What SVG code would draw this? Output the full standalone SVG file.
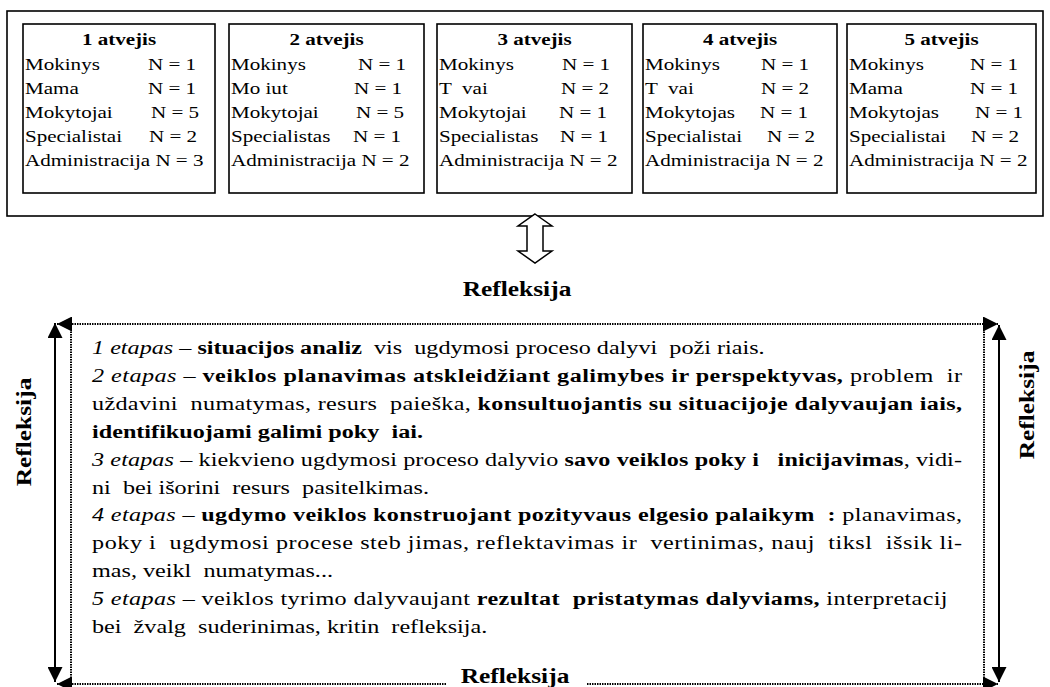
<svg xmlns="http://www.w3.org/2000/svg" width="1050" height="687" viewBox="0 0 1050 687">
<style>
text{font-family:Liberation Serif,DejaVu Serif,serif;fill:#000}
.bx{font-size:17px}
.bd{font-weight:bold}
.it{font-style:italic}
.body{font-size:19.5px}
.ref{font-size:20.5px;font-weight:bold}
.box{fill:#fff;stroke:#000;stroke-width:1.6}
.solid{stroke:#000;stroke-width:2;fill:none}
.dot{stroke:#000;stroke-width:2;fill:none;stroke-dasharray:1.5 1}
</style>
<defs>
<marker id="ah" viewBox="0 0 10 10" refX="10" refY="5" markerWidth="15" markerHeight="15" markerUnits="userSpaceOnUse" orient="auto-start-reverse">
<path d="M0,0 L10,5 L0,10 z" fill="#000"/>
</marker>
</defs>
<rect width="1050" height="687" fill="#fff"/>
<g id="cases-frame">
<rect x="7" y="11" width="1036" height="205" class="box"/>
</g>
<g id="case1">
<rect x="23" y="24" width="192" height="169" class="box"/>
<text class="bx bd" font-family="Liberation Serif" text-anchor="middle" transform="translate(119,45) scale(1.24,1)">1 atvejis</text>
<text class="bx" font-family="Liberation Serif" transform="translate(25,70) scale(1.24,1)">Mokinys</text>
<text class="bx" transform="translate(148,70) scale(1.24,1)">N = 1</text>
<text class="bx" transform="translate(25,94) scale(1.24,1)">Mama</text>
<text class="bx" transform="translate(148,94) scale(1.24,1)">N = 1</text>
<text class="bx" transform="translate(25,118) scale(1.24,1)">Mokytojai</text>
<text class="bx" transform="translate(151,118) scale(1.24,1)">N = 5</text>
<text class="bx" transform="translate(25,142) scale(1.24,1)">Specialistai</text>
<text class="bx" transform="translate(149,142) scale(1.24,1)">N = 2</text>
<text class="bx" transform="translate(25,166) scale(1.24,1)">Administracija N = 3</text>
</g>
<g id="case2">
<rect x="229" y="24" width="195" height="169" class="box"/>
<text class="bx bd" text-anchor="middle" transform="translate(326.5,45) scale(1.24,1)">2 atvejis</text>
<text class="bx" transform="translate(231,70) scale(1.24,1)">Mokinys</text>
<text class="bx" transform="translate(358,70) scale(1.24,1)">N = 1</text>
<text class="bx" xml:space="preserve" transform="translate(231,94) scale(1.24,1)">Mo iut</text>
<text class="bx" transform="translate(354,94) scale(1.24,1)">N = 1</text>
<text class="bx" transform="translate(231,118) scale(1.24,1)">Mokytojai</text>
<text class="bx" transform="translate(356,118) scale(1.24,1)">N = 5</text>
<text class="bx" transform="translate(231,142) scale(1.24,1)">Specialistas</text>
<text class="bx" transform="translate(353,142) scale(1.24,1)">N = 1</text>
<text class="bx" transform="translate(231,166) scale(1.24,1)">Administracija N = 2</text>
</g>
<g id="case3">
<rect x="437" y="24" width="195" height="169" class="box"/>
<text class="bx bd" text-anchor="middle" transform="translate(534.5,45) scale(1.24,1)">3 atvejis</text>
<text class="bx" transform="translate(439,70) scale(1.24,1)">Mokinys</text>
<text class="bx" transform="translate(562,70) scale(1.24,1)">N = 1</text>
<text class="bx" xml:space="preserve" transform="translate(439,94) scale(1.24,1)">T  vai</text>
<text class="bx" transform="translate(561,94) scale(1.24,1)">N = 2</text>
<text class="bx" transform="translate(439,118) scale(1.24,1)">Mokytojai</text>
<text class="bx" transform="translate(559,118) scale(1.24,1)">N = 1</text>
<text class="bx" transform="translate(439,142) scale(1.24,1)">Specialistas</text>
<text class="bx" transform="translate(560,142) scale(1.24,1)">N = 1</text>
<text class="bx" transform="translate(439,166) scale(1.24,1)">Administracija N = 2</text>
</g>
<g id="case4">
<rect x="643" y="24" width="194" height="169" class="box"/>
<text class="bx bd" text-anchor="middle" transform="translate(740,45) scale(1.24,1)">4 atvejis</text>
<text class="bx" transform="translate(645,70) scale(1.24,1)">Mokinys</text>
<text class="bx" transform="translate(761,70) scale(1.24,1)">N = 1</text>
<text class="bx" xml:space="preserve" transform="translate(645,94) scale(1.24,1)">T  vai</text>
<text class="bx" transform="translate(761,94) scale(1.24,1)">N = 2</text>
<text class="bx" transform="translate(645,118) scale(1.24,1)">Mokytojas</text>
<text class="bx" transform="translate(760,118) scale(1.24,1)">N = 1</text>
<text class="bx" transform="translate(645,142) scale(1.24,1)">Specialistai</text>
<text class="bx" transform="translate(767,142) scale(1.24,1)">N = 2</text>
<text class="bx" transform="translate(645,166) scale(1.24,1)">Administracija N = 2</text>
</g>
<g id="case5">
<rect x="847" y="24" width="189" height="169" class="box"/>
<text class="bx bd" text-anchor="middle" transform="translate(941.5,45) scale(1.24,1)">5 atvejis</text>
<text class="bx" transform="translate(849,70) scale(1.24,1)">Mokinys</text>
<text class="bx" transform="translate(970,70) scale(1.24,1)">N = 1</text>
<text class="bx" transform="translate(849,94) scale(1.24,1)">Mama</text>
<text class="bx" transform="translate(970,94) scale(1.24,1)">N = 1</text>
<text class="bx" transform="translate(849,118) scale(1.24,1)">Mokytojas</text>
<text class="bx" transform="translate(975,118) scale(1.24,1)">N = 1</text>
<text class="bx" transform="translate(849,142) scale(1.24,1)">Specialistai</text>
<text class="bx" transform="translate(971,142) scale(1.24,1)">N = 2</text>
<text class="bx" transform="translate(849,166) scale(1.24,1)">Administracija N = 2</text>
</g>
<g id="double-arrow">
<path d="M535,214 L552,226 L543,226 L543,251 L552,251 L535,263 L518,251 L527,251 L527,226 L518,226 Z" fill="#fff" stroke="#000" stroke-width="1.5" stroke-linejoin="miter"/>
</g>
<g id="label-top">
<text class="ref" text-anchor="middle" transform="translate(517,296) scale(1.24,1)">Refleksija</text>
</g>
<g id="connectors">
<line x1="71" y1="324" x2="71" y2="684" class="dot"/>
<line x1="984" y1="324" x2="984" y2="684" class="dot"/>
<line x1="57" y1="324" x2="998" y2="324" class="dot" marker-start="url(#ah)" marker-end="url(#ah)"/>
<line x1="57" y1="684" x2="998" y2="684" class="dot" marker-start="url(#ah)" marker-end="url(#ah)"/>
<line x1="55" y1="323" x2="55" y2="682" class="solid" marker-start="url(#ah)" marker-end="url(#ah)"/>
<line x1="999" y1="325" x2="999" y2="682" class="solid" marker-start="url(#ah)" marker-end="url(#ah)"/>
</g>
<g id="stages">
<text class="body" xml:space="preserve" transform="translate(92,354) scale(1.24,1)"><tspan class="it">1 etapas</tspan> – <tspan class="bd">situacijos analiz</tspan>  vis  ugdymosi proceso dalyvi  poži riais.</text>
<text class="body" xml:space="preserve" textLength="701.6" lengthAdjust="spacing" transform="translate(92,382) scale(1.24,1)"><tspan class="it">2 etapas</tspan> – <tspan class="bd">veiklos planavimas atskleidžiant galimybes ir perspektyvas,</tspan> problem  ir</text>
<text class="body" xml:space="preserve" textLength="701.6" lengthAdjust="spacing" transform="translate(92,410) scale(1.24,1)">uždavini  numatymas, resurs  paieška, <tspan class="bd">konsultuojantis su situacijoje dalyvaujan iais,</tspan></text>
<text class="body bd" xml:space="preserve" transform="translate(92,438) scale(1.24,1)">identifikuojami galimi poky  iai.</text>
<text class="body" xml:space="preserve" textLength="701.6" lengthAdjust="spacing" transform="translate(92,466) scale(1.24,1)"><tspan class="it">3 etapas</tspan> – kiekvieno ugdymosi proceso dalyvio <tspan class="bd">savo veiklos poky i   inicijavimas</tspan>, vidi-</text>
<text class="body" xml:space="preserve" transform="translate(92,494) scale(1.24,1)">ni  bei išorini  resurs  pasitelkimas.</text>
<text class="body" xml:space="preserve" textLength="701.6" lengthAdjust="spacing" transform="translate(92,521) scale(1.24,1)"><tspan class="it">4 etapas</tspan> – <tspan class="bd">ugdymo veiklos konstruojant pozityvaus elgesio palaikym  :</tspan> planavimas,</text>
<text class="body" xml:space="preserve" textLength="701.6" lengthAdjust="spacing" transform="translate(92,549) scale(1.24,1)">poky i  ugdymosi procese steb jimas, reflektavimas ir  vertinimas, nauj  tiksl  išsik li-</text>
<text class="body" xml:space="preserve" transform="translate(92,577) scale(1.24,1)">mas, veikl  numatymas...</text>
<text class="body" xml:space="preserve" textLength="690" lengthAdjust="spacing" transform="translate(92,605) scale(1.24,1)"><tspan class="it">5 etapas</tspan> – veiklos tyrimo dalyvaujant <tspan class="bd">rezultat  pristatymas dalyviams,</tspan> interpretacij</text>
<text class="body" xml:space="preserve" transform="translate(92,633) scale(1.24,1)">bei  žvalg  suderinimas, kritin  refleksija.</text>
</g>
<g id="label-left">
<text class="ref" text-anchor="middle" transform="translate(31,432) rotate(-90) scale(1.24,1)">Refleksija</text>
</g>
<g id="label-right">
<text class="ref" text-anchor="middle" transform="translate(1034,405) rotate(-90) scale(1.24,1)">Refleksija</text>
</g>
<g id="label-bottom">
<rect x="446" y="668" width="140" height="19" fill="#fff"/>
<text class="ref" text-anchor="middle" transform="translate(515,683) scale(1.24,1)">Refleksija</text>
</g>
</svg>
